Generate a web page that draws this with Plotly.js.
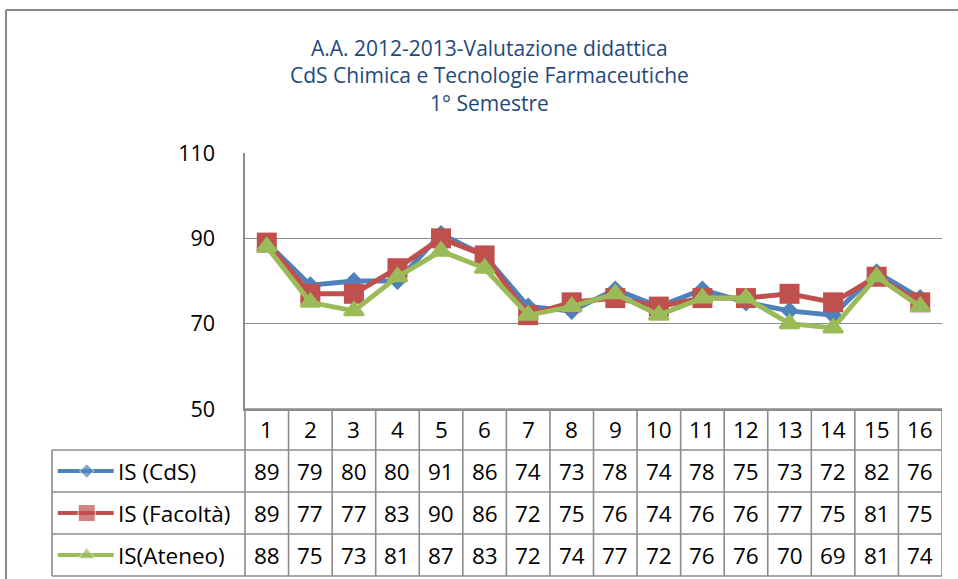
<!DOCTYPE html>
<html>
<head>
<meta charset="utf-8">
<script src="https://cdn.plot.ly/plotly-3.0.1.min.js"></script>
<style>html,body{margin:0;padding:0;background:#fff;}#chart{width:958px;height:579px;}</style>
</head>
<body>
<div id="chart"></div>
<script>
// ---- data ----
const categories = [1, 2, 3, 4, 5, 6, 7, 8, 9, 10, 11, 12, 13, 14, 15, 16];
const seriesNames = ['IS (CdS)', 'IS (Facoltà)', 'IS(Ateneo)'];
const isCdS      = [89, 79, 80, 80, 91, 86, 74, 73, 78, 74, 78, 75, 73, 72, 82, 76];
const isFacolta  = [89, 77, 77, 83, 90, 86, 72, 75, 76, 74, 76, 76, 77, 75, 81, 75];
const isAteneo   = [88, 75, 73, 81, 87, 83, 72, 74, 77, 72, 76, 76, 70, 69, 81, 74];
const yTicks = [50, 70, 90, 110];
const titleLines = ['A.A. 2012-2013-Valutazione didattica', 'CdS Chimica e Tecnologie Farmaceutiche', '1° Semestre'];

// ---- styles ----
const seriesValues = [isCdS, isFacolta, isAteneo];
const colors = ['#4F81BD', '#C0504D', '#9BBB59'];
const symbols = ['diamond', 'square', 'triangle-up'];
const plotSizes = [14, 20, 17];
const plotLineW = [0, 0, 2.5];
const legendSizes = [11, 17, 15];
const FONT = '"Open Sans", Lato, sans-serif';
const GRID = '#8c8c8c';

// geometry (pixels in the 958x579 page)
const W = 958, H = 579;
const mL = 52, mR = 16, mT = 153, mB = 3;
const pw = W - mL - mR, ph = H - mT - mB;
const px = x => (x - mL) / pw;         // page x -> paper x
const py = y => (H - mB - y) / ph;     // page y -> paper y

const axisLeft = 245, plotBottom = 409;
const rowEdges = [409, 450, 492, 534, 576];

const traces = [];
seriesValues.forEach((vals, i) => {
  traces.push({
    x: categories, y: vals, type: 'scatter', mode: 'lines+markers',
    name: seriesNames[i], xaxis: 'x', yaxis: 'y',
    line: {color: colors[i], width: 5},
    marker: {symbol: symbols[i], size: plotSizes[i], color: colors[i], line: {color: colors[i], width: plotLineW[i]}},
    hoverinfo: 'skip', cliponaxis: false
  });
});
// legend keys inside the data table (own hidden axes)
seriesNames.forEach((nm, i) => {
  const c = 2.5 - i;
  traces.push({
    x: [0.03, 0.18, 0.32], y: [c, c, c], type: 'scatter', mode: 'lines+markers',
    xaxis: 'x2', yaxis: 'y2', showlegend: false, hoverinfo: 'skip',
    line: {color: colors[i], width: 4},
    marker: {symbol: symbols[i], size: [0, legendSizes[i], 0], color: colors[i]}
  });
});

const shapes = [];
const annotations = [];
const ln = (x0, y0, x1, y1, xref) => ({type: 'line', xref: xref || 'paper', yref: 'paper', x0, y0, x1, y1, line: {color: GRID, width: 1.6}, layer: 'above'});

// outer chart frame (left + top)
shapes.push({type: 'line', xref: 'paper', yref: 'paper', x0: px(6), y0: py(10), x1: px(6), y1: py(582), line: {color: '#888', width: 2}});
shapes.push({type: 'line', xref: 'paper', yref: 'paper', x0: px(6), y0: py(10), x1: px(962), y1: py(10), line: {color: '#888', width: 2}});

// table horizontal lines
shapes.push(ln(px(axisLeft), py(rowEdges[0]), 1, py(rowEdges[0])));
for (let r = 1; r < rowEdges.length; r++) shapes.push(ln(0, py(rowEdges[r]), 1, py(rowEdges[r])));
// table vertical lines
shapes.push(ln(0, py(rowEdges[1]), 0, py(rowEdges[4])));
shapes.push(ln(px(axisLeft), py(rowEdges[0]), px(axisLeft), py(rowEdges[4])));
categories.forEach(c => {
  shapes.push(ln(c + 0.5, py(rowEdges[0]), c + 0.5, py(rowEdges[4]), 'x'));
});

// header row (categories)
const cellFont = {family: FONT, size: 22.5, color: '#000'};
const rowMid = r => py((rowEdges[r] + rowEdges[r + 1]) / 2);
categories.forEach(c => {
  annotations.push({x: c, xref: 'x', y: rowMid(0), yref: 'paper', text: String(c), showarrow: false, font: cellFont, xanchor: 'center', yanchor: 'middle'});
});
seriesValues.forEach((vals, i) => {
  vals.forEach((v, k) => {
    annotations.push({x: categories[k], xref: 'x', y: rowMid(i + 1), yref: 'paper', text: String(v), showarrow: false, font: cellFont, xanchor: 'center', yanchor: 'middle'});
  });
  annotations.push({x: 0.33, xref: 'x2', y: 2.5 - i, yref: 'y2', text: seriesNames[i], showarrow: false, font: cellFont, xanchor: 'left', yanchor: 'middle'});
});

// title lines
const titleY = [48, 75, 103];
titleLines.forEach((t, i) => {
  annotations.push({x: px(489), xref: 'paper', y: py(titleY[i]), yref: 'paper', text: t, showarrow: false,
    font: {family: FONT, size: 21, color: '#1F497D'}, xanchor: 'center', yanchor: 'middle'});
});

const layout = {
  width: W, height: H,
  margin: {l: mL, r: mR, t: mT, b: mB, pad: 0},
  paper_bgcolor: '#fff', plot_bgcolor: '#fff',
  showlegend: false, hovermode: false,
  xaxis: {domain: [px(axisLeft), 1], range: [0.5, 16.5], showticklabels: false, ticks: '', showgrid: false,
          zeroline: false, showline: true, linecolor: GRID, linewidth: 1.6, anchor: 'y', fixedrange: true},
  yaxis: {domain: [py(plotBottom), 1], range: [50, 110], tickvals: yTicks, ticks: '', showgrid: true,
          gridcolor: GRID, gridwidth: 1.6, zeroline: false, showline: true, linecolor: GRID, linewidth: 1.6,
          tickfont: {family: FONT, size: 21.5, color: '#000'}, ticklabelstandoff: 24, anchor: 'x', fixedrange: true},
  xaxis2: {domain: [0, px(axisLeft)], range: [0, 1], visible: false, anchor: 'y2', fixedrange: true},
  yaxis2: {domain: [0, py(rowEdges[1])], range: [0, 3], visible: false, anchor: 'x2', fixedrange: true},
  shapes: shapes,
  annotations: annotations
};

Plotly.newPlot('chart', traces, layout, {displayModeBar: false, staticPlot: true});
</script>
</body>
</html>
